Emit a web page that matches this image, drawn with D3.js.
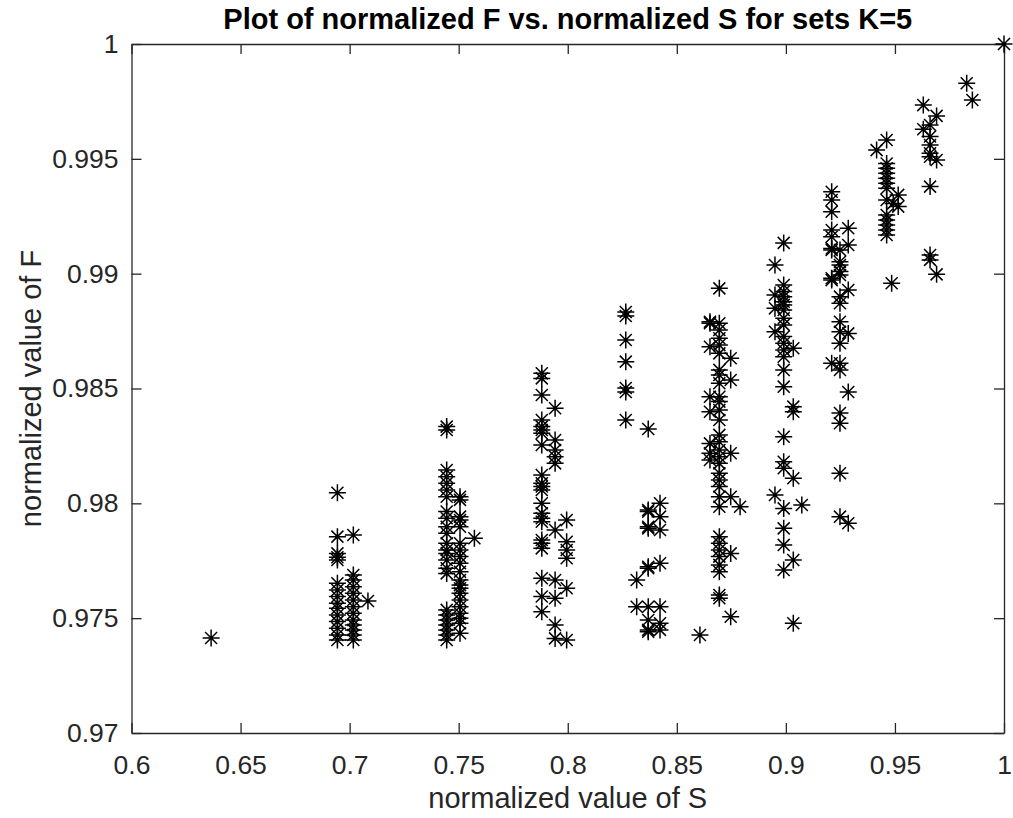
<!DOCTYPE html>
<html>
<head>
<meta charset="utf-8">
<script src="https://cdn.jsdelivr.net/npm/d3@7"></script>
<style>
  body { margin: 0; background: #fff; }
  text { font-family: "Liberation Sans", Arial, sans-serif; }
</style>
</head>
<body>
<script>
// tick values / labels
var xTicks = [0.6, 0.65, 0.7, 0.75, 0.8, 0.85, 0.9, 0.95, 1];
var xTickLabels = ["0.6", "0.65", "0.7", "0.75", "0.8", "0.85", "0.9", "0.95", "1"];
var yTicks = [0.97, 0.975, 0.98, 0.985, 0.99, 0.995, 1];
var yTickLabels = ["0.97", "0.975", "0.98", "0.985", "0.99", "0.995", "1"];

// normalized S of each column of points
var sValues = [0.6365, 0.6944, 0.7017, 0.7084, 0.7445, 0.7506, 0.7572, 0.7881, 0.7942, 0.7995,
  0.8266, 0.8316, 0.8369, 0.8423, 0.8606, 0.8652, 0.8695, 0.8747, 0.8790, 0.8950,
  0.8990, 0.9034, 0.9073, 0.9210, 0.9248, 0.9286, 0.9416, 0.9462, 0.9485, 0.9492,
  0.9515, 0.9630, 0.9661, 0.9691, 0.9829, 0.9855, 1.0];

// normalized F of the points in each column
var fValues = [
  [0.97414],
  [0.98046, 0.97855, 0.97782, 0.97765, 0.97753, 0.97652, 0.97623, 0.97594, 0.97565, 0.97543, 0.97514, 0.97485, 0.97456, 0.97427, 0.97405],
  [0.97862, 0.97688, 0.97666, 0.97637, 0.97608, 0.97579, 0.97550, 0.97521, 0.97492, 0.97470, 0.97449, 0.97427, 0.97405],
  [0.97575],
  [0.98334, 0.98319, 0.98145, 0.98116, 0.98087, 0.98058, 0.98029, 0.97964, 0.97935, 0.97898, 0.97870, 0.97826, 0.97797, 0.97782, 0.97753, 0.97717, 0.97695, 0.97536, 0.97514, 0.97492, 0.97470, 0.97449, 0.97427, 0.97405],
  [0.98029, 0.98015, 0.97942, 0.97927, 0.97898, 0.97826, 0.97797, 0.97768, 0.97739, 0.97702, 0.97666, 0.97644, 0.97630, 0.97608, 0.97579, 0.97550, 0.97521, 0.97500, 0.97478, 0.97434],
  [0.97848],
  [0.98566, 0.98544, 0.98472, 0.98363, 0.98334, 0.98319, 0.98305, 0.98254, 0.98123, 0.98087, 0.98073, 0.98058, 0.98000, 0.97957, 0.97935, 0.97920, 0.97840, 0.97826, 0.97804, 0.97674, 0.97594, 0.97528],
  [0.98414, 0.98276, 0.98232, 0.98203, 0.98174, 0.97884, 0.97666, 0.97587, 0.97470, 0.97412],
  [0.97927, 0.97833, 0.97797, 0.97761, 0.97630, 0.97405],
  [0.98833, 0.98816, 0.98711, 0.98617, 0.98502, 0.98485, 0.98363],
  [0.97666, 0.97550],
  [0.98324, 0.97971, 0.97964, 0.97898, 0.97891, 0.97724, 0.97717, 0.97550, 0.97492, 0.97449, 0.97441],
  [0.98000, 0.97942, 0.97884, 0.97739, 0.97550, 0.97478, 0.97449],
  [0.97427],
  [0.98791, 0.98784, 0.98682, 0.98464, 0.98399, 0.98261, 0.98218, 0.98189],
  [0.98936, 0.98784, 0.98755, 0.98719, 0.98689, 0.98653, 0.98581, 0.98559, 0.98523, 0.98464, 0.98443, 0.98406, 0.98363, 0.98298, 0.98268, 0.98232, 0.98203, 0.98174, 0.98131, 0.98102, 0.98073, 0.98029, 0.97985, 0.97855, 0.97826, 0.97797, 0.97768, 0.97732, 0.97702, 0.97601, 0.97587],
  [0.98632, 0.98537, 0.98218, 0.98029, 0.97782, 0.97506],
  [0.97985],
  [0.99038, 0.98907, 0.98849, 0.98747, 0.98036],
  [0.99134, 0.98951, 0.98922, 0.98900, 0.98878, 0.98864, 0.98842, 0.98806, 0.98777, 0.98726, 0.98697, 0.98668, 0.98638, 0.98581, 0.98508, 0.98290, 0.98181, 0.98153, 0.97978, 0.97891, 0.97819, 0.97710],
  [0.98675, 0.98421, 0.98399, 0.98109, 0.97753, 0.97478],
  [0.97993],
  [0.99357, 0.99321, 0.99270, 0.99190, 0.99161, 0.99110, 0.99103, 0.98980, 0.98972, 0.98610],
  [0.99103, 0.99052, 0.99038, 0.99009, 0.98994, 0.98900, 0.98871, 0.98791, 0.98747, 0.98697, 0.98610, 0.98581, 0.98393, 0.98349, 0.98131, 0.97942],
  [0.99198, 0.99125, 0.98929, 0.98740, 0.98485, 0.97913],
  [0.99538],
  [0.99582, 0.99480, 0.99459, 0.99437, 0.99415, 0.99394, 0.99372, 0.99321, 0.99255, 0.99234, 0.99212, 0.99190, 0.99168],
  [0.98958],
  [0.99306],
  [0.99343, 0.99292],
  [0.99734, 0.99629],
  [0.99647, 0.99597, 0.99560, 0.99524, 0.99509, 0.99379, 0.99081, 0.99060],
  [0.99687, 0.99495, 0.98997],
  [0.99829],
  [0.99756],
  [1.0]
];

var titleText = "Plot of normalized F vs. normalized S for sets K=5";
var xLabel = "normalized value of S";
var yLabel = "normalized value of F";

var W = 1013, H = 818;
var mLeft = 131.5, mRight = 1004, mTop = 44, mBottom = 733;
var axisColor = "#262626";

var points = [];
for (var i = 0; i < sValues.length; i++) {
  for (var j = 0; j < fValues[i].length; j++) {
    points.push([sValues[i], fValues[i][j]]);
  }
}

var svg = d3.select("body").append("svg")
  .attr("width", W)
  .attr("height", H);

var x = d3.scaleLinear().domain([0.6, 1]).range([mLeft, mRight]);
var y = d3.scaleLinear().domain([0.97, 1]).range([mBottom, mTop]);

function styleAxis(g) {
  g.select(".domain").attr("stroke", axisColor).attr("stroke-width", 1.3);
  g.selectAll(".tick line").attr("stroke", axisColor).attr("stroke-width", 1.3);
  g.selectAll(".tick text").attr("fill", axisColor)
    .style("font-size", "26.5px");
}

// bottom axis with labels
svg.append("g")
  .attr("transform", "translate(0," + mBottom + ")")
  .call(d3.axisBottom(x).tickValues(xTicks)
    .tickFormat(function(d, i) { return xTickLabels[i]; })
    .tickSizeInner(-10).tickSizeOuter(0).tickPadding(22))
  .call(styleAxis);

// left axis with labels
svg.append("g")
  .attr("transform", "translate(" + mLeft + ",0)")
  .call(d3.axisLeft(y).tickValues(yTicks)
    .tickFormat(function(d, i) { return yTickLabels[i]; })
    .tickSizeInner(-10).tickSizeOuter(0).tickPadding(13))
  .call(styleAxis);

// top and right (box) axes, ticks only
svg.append("g")
  .attr("transform", "translate(0," + mTop + ")")
  .call(d3.axisTop(x).tickValues(xTicks).tickFormat("")
    .tickSizeInner(-10).tickSizeOuter(0))
  .call(styleAxis);

svg.append("g")
  .attr("transform", "translate(" + mRight + ",0)")
  .call(d3.axisRight(y).tickValues(yTicks).tickFormat("")
    .tickSizeInner(-10).tickSizeOuter(0))
  .call(styleAxis);

// asterisk markers
var r = 8.5, d = r * 0.7071;
var star = "M" + (-r) + ",0H" + r + "M0," + (-r) + "V" + r +
  "M" + (-d) + "," + (-d) + "L" + d + "," + d +
  "M" + (-d) + "," + d + "L" + d + "," + (-d);

svg.append("g").selectAll("path")
  .data(points)
  .enter()
  .append("path")
  .attr("d", star)
  .attr("transform", function(p) { return "translate(" + x(p[0]) + "," + y(p[1]) + ")"; })
  .attr("fill", "none")
  .attr("stroke", "#000")
  .attr("stroke-width", 1.5);

// title and axis labels
svg.append("text")
  .attr("x", (mLeft + mRight) / 2)
  .attr("y", 29)
  .attr("text-anchor", "middle")
  .style("font-size", "29px")
  .style("font-weight", "bold")
  .attr("fill", "#000")
  .text(titleText);

svg.append("text")
  .attr("x", (mLeft + mRight) / 2)
  .attr("y", 808)
  .attr("text-anchor", "middle")
  .style("font-size", "29px")
  .attr("fill", axisColor)
  .text(xLabel);

svg.append("text")
  .attr("transform", "translate(41," + ((mTop + mBottom) / 2) + ") rotate(-90)")
  .attr("text-anchor", "middle")
  .style("font-size", "29px")
  .attr("fill", axisColor)
  .text(yLabel);
</script>
</body>
</html>
